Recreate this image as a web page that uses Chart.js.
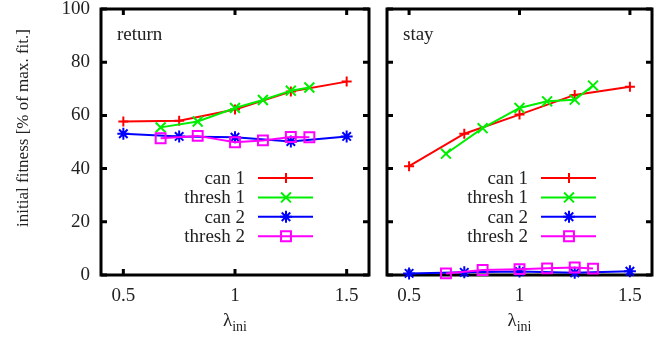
<!DOCTYPE html>
<html>
<head>
<meta charset="utf-8">
<script src="https://cdn.jsdelivr.net/npm/chart.js@4/dist/chart.umd.min.js"></script>
<style>
  html, body { margin: 0; padding: 0; background: #fff; }
  #wrap { position: relative; width: 661px; height: 340px; }
  canvas { position: absolute; top: 0; }
  #cReturn { left: 0; }
  #cStay { left: 378px; }
</style>
</head>
<body>
<div id="wrap">
  <canvas id="cReturn" width="378" height="340"></canvas>
  <canvas id="cStay" width="283" height="340"></canvas>
</div>
<script>
// lambda_ini values for the two strategy families
const lambdaCan = [0.5, 0.75, 1.0, 1.25, 1.5];
const lambdaThresh = [0.667, 0.833, 1.0, 1.125, 1.25, 1.333];

// initial fitness [% of max. fit.] — "return" scenario
const returnCan1 = [57.7, 58.0, 62.2, 69.0, 72.7];
const returnThresh1 = [55.5, 57.7, 62.8, 65.8, 69.3, 70.5];
const returnCan2 = [53.1, 52.1, 51.8, 50.2, 52.1];
const returnThresh2 = [51.4, 52.3, 49.9, 50.6, 51.9, 51.8];

// initial fitness [% of max. fit.] — "stay" scenario
const stayCan1 = [40.9, 53.1, 60.3, 67.7, 70.8];
const stayThresh1 = [45.6, 55.2, 62.8, 65.3, 65.9, 71.2];
const stayCan2 = [0.6, 1.0, 1.3, 0.8, 1.4];
const stayThresh2 = [0.6, 1.9, 2.2, 2.5, 2.8, 2.4];

const seriesNames = ['can 1', 'thresh 1', 'can 2', 'thresh 2'];
const xTicks = [0.5, 1, 1.5];
const yTicks = [0, 20, 40, 60, 80, 100];

const SERIF = '"Liberation Serif", "Times New Roman", serif';
const TEXT = '#222';

const styles = [
  { color: '#ff0000', pointStyle: 'cross', r: 5 },
  { color: '#00ee00', pointStyle: 'crossRot', r: 7 },
  { color: '#0000ff', pointStyle: 'star', r: 6 },
  { color: '#ff00ff', pointStyle: 'rect', r: 7 }
];

function pts(xs, ys) { return xs.map((x, i) => ({ x: x, y: ys[i] })); }

function makeDatasets(c1, t1, c2, t2) {
  const sets = [pts(lambdaCan, c1), pts(lambdaThresh, t1), pts(lambdaCan, c2), pts(lambdaThresh, t2)];
  return sets.map((d, i) => ({
    label: seriesNames[i],
    data: d,
    borderColor: styles[i].color,
    backgroundColor: 'rgba(0,0,0,0)',
    pointBorderColor: styles[i].color,
    pointBackgroundColor: 'rgba(0,0,0,0)',
    pointStyle: styles[i].pointStyle,
    pointRadius: styles[i].r,
    pointBorderWidth: 2,
    borderWidth: 2,
    tension: 0,
    clip: false,
    order: 4 - i
  }));
}

// frame, inward ticks, legend and panel texts
const decor = {
  id: 'decor',
  beforeDatasetsDraw(chart, args, opts) {
    const ctx = chart.ctx, a = chart.chartArea;
    const sx = chart.scales.x, sy = chart.scales.y;
    ctx.save();
    ctx.strokeStyle = '#000';
    ctx.lineWidth = 3;
    ctx.lineCap = 'butt';
    ctx.strokeRect(a.left, a.top, a.right - a.left, a.bottom - a.top);
    const L = 6;
    ctx.beginPath();
    xTicks.forEach(v => {
      const px = sx.getPixelForValue(v);
      ctx.moveTo(px, a.bottom); ctx.lineTo(px, a.bottom - L);
      ctx.moveTo(px, a.top); ctx.lineTo(px, a.top + L);
    });
    yTicks.forEach(v => {
      const py = sy.getPixelForValue(v);
      ctx.moveTo(a.left, py); ctx.lineTo(a.left + L, py);
      ctx.moveTo(a.right, py); ctx.lineTo(a.right - L, py);
    });
    ctx.stroke();
    ctx.restore();
  },
  afterDraw(chart, args, opts) {
    const ctx = chart.ctx, a = chart.chartArea;
    ctx.save();
    // panel name
    ctx.fillStyle = TEXT;
    ctx.font = '19px ' + SERIF;
    ctx.textAlign = 'left';
    ctx.textBaseline = 'middle';
    ctx.fillText(opts.panel, a.left + 16, 35);

    // legend
    const textRight = a.right - 124, lineStart = a.right - 111, lineEnd = a.right - 56, mk = a.right - 83;
    chart.data.datasets.forEach((ds, i) => {
      const y = 178 + i * 19.4;
      ctx.fillStyle = TEXT;
      ctx.font = '19px ' + SERIF;
      ctx.textAlign = 'right';
      ctx.textBaseline = 'middle';
      ctx.fillText(ds.label, textRight, y + 1);
      ctx.strokeStyle = ds.borderColor;
      ctx.lineWidth = 2;
      ctx.beginPath();
      ctx.moveTo(lineStart, y); ctx.lineTo(lineEnd, y);
      ctx.stroke();
      ctx.fillStyle = 'rgba(0,0,0,0)';
      ctx.lineWidth = 2;
      Chart.helpers.drawPoint(ctx, { pointStyle: ds.pointStyle, radius: ds.pointRadius, rotation: 0, borderWidth: 2 }, mk, y);
    });

    // x axis title: lambda with subscript
    const cx = (a.left + a.right) / 2;
    ctx.fillStyle = TEXT;
    ctx.textBaseline = 'alphabetic';
    ctx.font = '19px ' + SERIF;
    const wL = ctx.measureText('λ').width;
    ctx.font = '14px ' + SERIF;
    const wS = ctx.measureText('ini').width;
    const x0 = cx - (wL + wS) / 2;
    ctx.font = '19px ' + SERIF;
    ctx.textAlign = 'left';
    ctx.fillText('λ', x0, 326);
    ctx.font = '14px ' + SERIF;
    ctx.fillText('ini', x0 + wL, 331);

    // y axis title on the left panel only
    if (opts.yTitle) {
      ctx.translate(24, 128);
      ctx.rotate(-Math.PI / 2);
      ctx.font = '17px ' + SERIF;
      ctx.textAlign = 'center';
      ctx.textBaseline = 'middle';
      ctx.fillText(opts.yTitle, 0, 0);
    }
    ctx.restore();
  }
};

function makeChart(id, datasets, panel, showY, padding, yTitle) {
  return new Chart(document.getElementById(id), {
    type: 'line',
    data: { datasets: datasets },
    plugins: [decor],
    options: {
      responsive: false,
      animation: false,
      events: [],
      layout: { padding: padding },
      plugins: {
        legend: { display: false },
        tooltip: { enabled: false },
        decor: { panel: panel, yTitle: yTitle }
      },
      scales: {
        x: {
          type: 'linear',
          min: 0.4,
          max: 1.6,
          afterBuildTicks: s => { s.ticks = xTicks.map(v => ({ value: v })); },
          afterFit: s => { s.height = 65; s.paddingLeft = 0; s.paddingRight = 0; },
          grid: { display: false },
          border: { display: false },
          ticks: {
            callback: v => String(v),
            font: { family: SERIF, size: 19 },
            color: TEXT,
            padding: 2,
            maxRotation: 0
          }
        },
        y: {
          type: 'linear',
          display: showY,
          min: 0,
          max: 100,
          afterBuildTicks: s => { s.ticks = yTicks.map(v => ({ value: v })); },
          afterFit: s => { s.width = showY ? 101 : 0; s.paddingTop = 0; s.paddingBottom = 0; },
          grid: { display: false },
          border: { display: false },
          ticks: {
            font: { family: SERIF, size: 19 },
            color: TEXT,
            padding: 3
          }
        }
      }
    }
  });
}

makeChart('cReturn', makeDatasets(returnCan1, returnThresh1, returnCan2, returnThresh2),
  'return', true, { top: 8, right: 5, left: 0, bottom: 0 }, 'initial fitness [% of max. fit.]');
makeChart('cStay', makeDatasets(stayCan1, stayThresh1, stayCan2, stayThresh2),
  'stay', false, { top: 8, right: 9, left: 4, bottom: 0 }, null);
</script>
</body>
</html>
